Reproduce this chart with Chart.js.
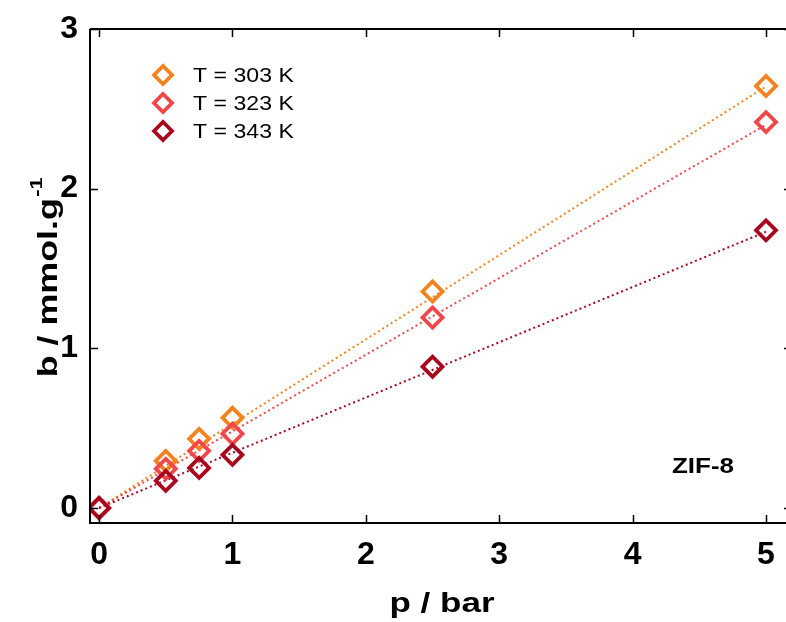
<!DOCTYPE html>
<html>
<head>
<meta charset="utf-8">
<script src="https://cdn.jsdelivr.net/npm/chart.js@4/dist/chart.umd.min.js"></script>
<style>
html,body{margin:0;padding:0;background:#fff;}
#wrap{width:786px;height:622px;position:relative;}
</style>
</head>
<body>
<div id="wrap"><canvas id="c" width="786" height="622"></canvas></div>
<script>
// ---- data ----
const pressure = [0, 0.5, 0.75, 1, 2.5, 5];
const b303 = [0, 0.295, 0.433, 0.565, 1.356, 2.643];
const b323 = [0, 0.245, 0.358, 0.465, 1.193, 2.417];
const b343 = [0, 0.17, 0.251, 0.333, 0.885, 1.739];
const fitX = [0, 5];
const fit303 = [0, 2.64];
const fit323 = [0, 2.40];
const fit343 = [0, 1.73];
const seriesLabels = ['T = 303 K', 'T = 323 K', 'T = 343 K'];
const xTicks = [0, 1, 2, 3, 4, 5];
const yTicks = [0, 1, 2, 3];

const colors = ['#F5821F', '#F2474A', '#A8081F'];
const pts = (xs, ys) => xs.map((x, i) => ({x: x, y: ys[i]}));

const markerDs = (label, ys, col) => ({
  label: label, data: pts(pressure, ys), showLine: false,
  pointStyle: 'rectRot', pointRadius: 10, pointHoverRadius: 10,
  pointBorderWidth: 3.8, pointBackgroundColor: 'rgba(255,255,255,0)',
  borderColor: col, backgroundColor: col, isMarker: true
});
const lineDs = (ys, col) => ({
  label: '', data: pts(fitX, ys), showLine: true, pointRadius: 0,
  borderColor: col, borderWidth: 2, borderDash: [2, 3], fill: false, isMarker: false
});

const FONT = "'Liberation Sans', Arial, sans-serif";

function stretchText(ctx, text, x, y, sx, align) {
  ctx.save();
  ctx.translate(x, y);
  ctx.scale(sx, 1);
  ctx.textAlign = align || 'left';
  ctx.fillText(text, 0, 0);
  ctx.restore();
}

const framePlugin = {
  id: 'frame',
  afterDraw(chart) {
    const ctx = chart.ctx, a = chart.chartArea;
    const xs = chart.scales.x, ys = chart.scales.y;
    ctx.save();
    ctx.strokeStyle = '#000';
    ctx.lineWidth = 2;
    ctx.beginPath();
    ctx.moveTo(a.left, a.top); ctx.lineTo(a.right + 2, a.top);
    ctx.moveTo(a.left, a.top); ctx.lineTo(a.left, a.bottom);
    ctx.moveTo(a.left - 1, a.bottom); ctx.lineTo(a.right + 2, a.bottom);
    ctx.stroke();
    const L = 8;
    ctx.lineWidth = 1.5;
    ctx.beginPath();
    xTicks.forEach(v => {
      const px = Math.round(xs.getPixelForValue(v)) + 0.5;
      ctx.moveTo(px, a.bottom); ctx.lineTo(px, a.bottom - L);
      ctx.moveTo(px, a.top); ctx.lineTo(px, a.top + L);
    });
    yTicks.forEach(v => {
      const py = Math.round(ys.getPixelForValue(v)) + 0.5;
      ctx.moveTo(a.left, py); ctx.lineTo(a.left + L, py);
      ctx.moveTo(a.right, py); ctx.lineTo(a.right - 2, py);
    });
    ctx.stroke();

    // legend
    const markers = chart.data.datasets.filter(d => d.isMarker);
    ctx.font = "21px " + FONT;
    ctx.textBaseline = 'middle';
    seriesLabels.forEach((lab, i) => {
      const d = markers.find(m => m.label === lab);
      const y = 75 + i * 28;
      const r = 9;
      ctx.strokeStyle = d.borderColor; ctx.lineWidth = 3.8;
      ctx.beginPath();
      ctx.moveTo(163 - r, y); ctx.lineTo(163, y - r); ctx.lineTo(163 + r, y); ctx.lineTo(163, y + r); ctx.closePath();
      ctx.stroke();
      ctx.fillStyle = '#000';
      stretchText(ctx, lab, 193, y + 1, 1.1, 'left');
    });

    // annotation
    ctx.fillStyle = '#000';
    ctx.font = "bold 22px " + FONT;
    stretchText(ctx, 'ZIF-8', 672, 467, 1.18, 'left');

    // axis titles
    ctx.font = "bold 28px " + FONT;
    ctx.textBaseline = 'alphabetic';
    stretchText(ctx, 'p / bar', 442, 612, 1.25, 'center');

    ctx.save();
    ctx.translate(57, 278);
    ctx.rotate(-Math.PI / 2);
    ctx.scale(1.28, 1);
    const main = 'b / mmol.g';
    ctx.font = "bold 28px " + FONT;
    const w1 = ctx.measureText(main).width;
    ctx.font = "bold 17px " + FONT;
    const w2 = ctx.measureText('-1').width;
    const start = -(w1 + w2) / 2;
    ctx.textAlign = 'left';
    ctx.font = "bold 28px " + FONT;
    ctx.fillText(main, start, 0);
    ctx.font = "bold 17px " + FONT;
    ctx.fillText('-1', start + w1 + 1, -15);
    ctx.restore();
    ctx.restore();
  }
};

new Chart(document.getElementById('c'), {
  type: 'scatter',
  data: {
    datasets: [
      markerDs(seriesLabels[2], b343, colors[2]),
      markerDs(seriesLabels[1], b323, colors[1]),
      markerDs(seriesLabels[0], b303, colors[0]),
      lineDs(fit343, colors[2]),
      lineDs(fit323, colors[1]),
      lineDs(fit303, colors[0])
    ]
  },
  plugins: [framePlugin],
  options: {
    responsive: false,
    animation: false,
    layout: {autoPadding: false, padding: {top: 29, right: 0, left: 0, bottom: 0}},
    plugins: {legend: {display: false}, tooltip: {enabled: false}},
    scales: {
      x: {
        type: 'linear', min: -0.068, max: 5.15,
        afterFit(s) { s.height = 99; s.paddingLeft = 0; s.paddingRight = 0; },
        afterBuildTicks(s) { s.ticks = xTicks.map(v => ({value: v})); },
        border: {display: false},
        grid: {display: false, drawTicks: false},
        ticks: {color: '#000', padding: 13, font: {family: FONT, size: 32, weight: 'bold'}, maxRotation: 0}
      },
      y: {
        type: 'linear', min: -0.094, max: 3,
        afterFit(s) { s.width = 90; s.paddingTop = 0; s.paddingBottom = 0; },
        afterBuildTicks(s) { s.ticks = yTicks.map(v => ({value: v})); },
        border: {display: false},
        grid: {display: false, drawTicks: false},
        ticks: {color: '#000', padding: 12, font: {family: FONT, size: 32, weight: 'bold'}}
      }
    }
  }
});
</script>
</body>
</html>
